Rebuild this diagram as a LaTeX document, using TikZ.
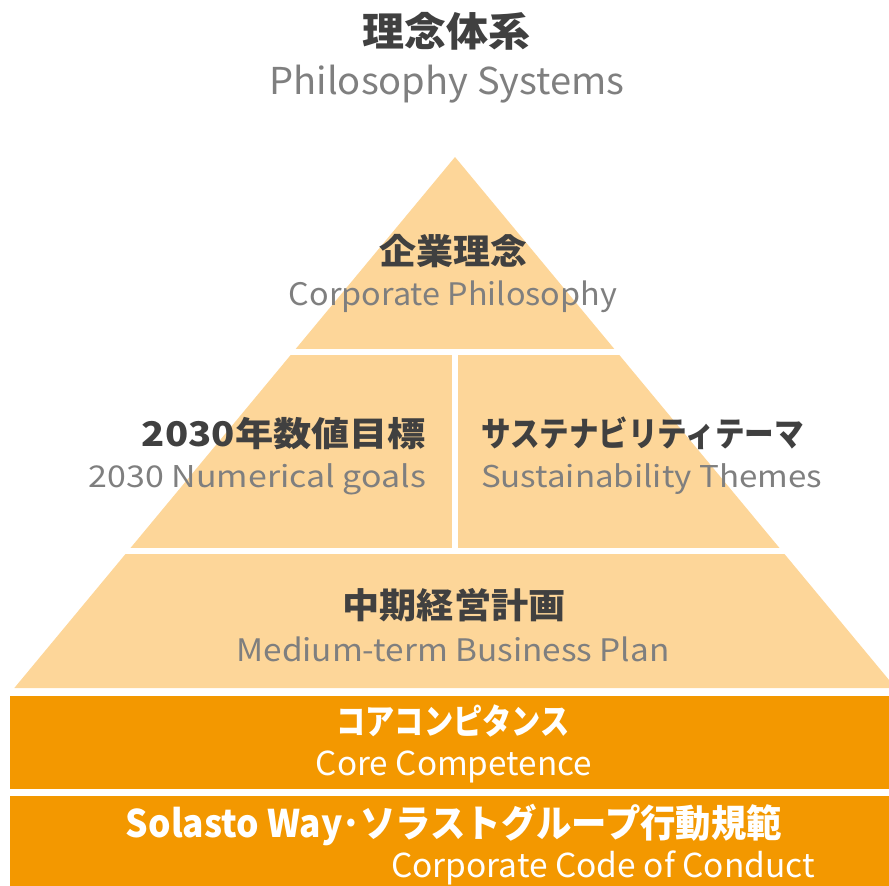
\documentclass[tikz,border=0pt]{standalone}
\usepackage{fontspec}
\usepackage{graphicx}
\setmainfont{Noto Sans CJK JP}
\definecolor{lightor}{HTML}{FDD699}
\definecolor{darkor}{HTML}{F39800}
\definecolor{txtdark}{HTML}{404040}
\definecolor{txtgrey}{HTML}{7F7F7F}
\newcommand\fitw[2]{\resizebox{#1pt}{\height}{#2}}
\begin{document}
\begin{tikzpicture}[x=1pt,y=-1pt,
  txt/.style={inner sep=0pt,outer sep=0pt},
  jp/.style={txt,text=txtdark,font=\fontsize{#1}{#1}\selectfont\bfseries},
  en/.style={txt,text=txtgrey,font=\fontsize{#1}{#1}\selectfont},
  wjp/.style={txt,text=white,font=\fontsize{#1}{#1}\selectfont\bfseries},
  wen/.style={txt,text=white,font=\fontsize{#1}{#1}\selectfont}]
\useasboundingbox (0,0) rectangle (889,886);
% pyramid
\begin{scope}
\clip (0,0) rectangle (889,886);
\fill[lightor] (455,157) -- (895.7,688) -- (14.3,688) -- cycle;
\end{scope}
\fill[white] (0,349) rectangle (889,355);
\fill[white] (0,548) rectangle (889,554);
\fill[white] (452,355) rectangle (458,548);
% dark bands
\fill[darkor] (10,696) rectangle (889,789);
\fill[darkor] (10,796) rectangle (889,886);
% texts
\node[jp=40,anchor=south] (t1) at (446,50) {\fitw{168}{理念体系}};
\node[en=37,anchor=base] (t2) at (447,94) {\fitw{355}{Philosophy Systems}};
\node[jp=35,anchor=south] (a1) at (453,268) {\fitw{148}{企業理念}};
\node[en=31,anchor=base] (a2) at (453,305) {\fitw{328}{Corporate Philosophy}};
\node[jp=34,anchor=south east] (b1) at (426,450) {\fitw{284}{2030年数値目標}};
\node[en=30,anchor=base east] (b2) at (426,487) {\fitw{337}{2030 Numerical goals}};
\node[jp=34,anchor=south west] (c1) at (481,450) {\fitw{323}{サステナビリティテーマ}};
\node[en=30,anchor=base west] (c2) at (481,487) {\fitw{341}{Sustainability Themes}};
\node[jp=35,anchor=south] (d1) at (454,622) {\fitw{223}{中期経営計画}};
\node[en=31,anchor=base] (d2) at (453,661) {\fitw{433}{Medium-term Business Plan}};
\node[wjp=35,anchor=south] (e1) at (453,737) {\fitw{233}{コアコンピタンス}};
\node[wen=33,anchor=base] (e2) at (454,775) {\fitw{276}{Core Competence}};
\node[wjp=38,anchor=base] (f1) at (454,837) {\fitw{656}{Solasto Way･ソラストグループ行動規範}};
\node[wen=33,anchor=base] (f2) at (603,877) {\fitw{424}{Corporate Code of Conduct}};
\end{tikzpicture}
\end{document}
